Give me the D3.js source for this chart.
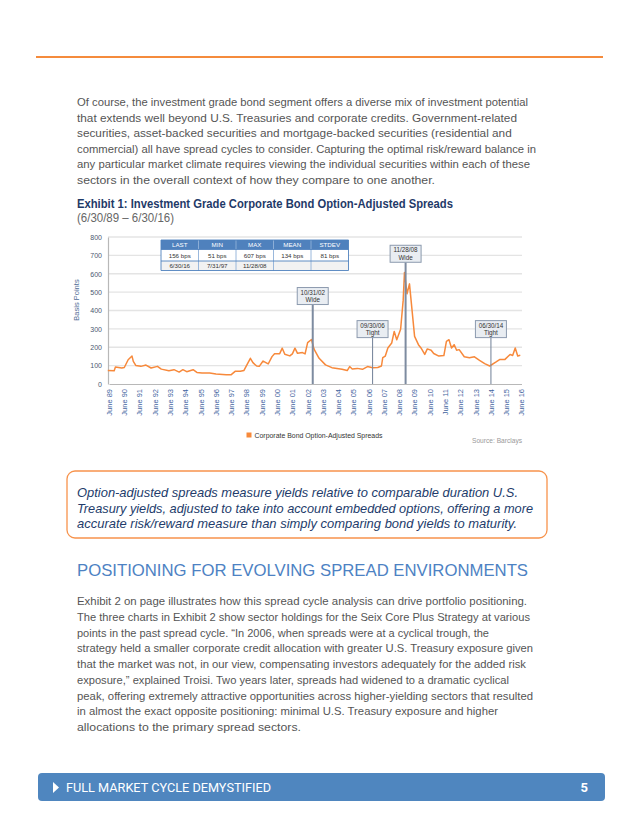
<!DOCTYPE html>
<html><head><meta charset="utf-8">
<script src="https://cdn.jsdelivr.net/npm/d3@7"></script>
<style>body{margin:0;background:#fff}svg{display:block}</style>
</head><body><svg id="c" width="640" height="828"></svg>
<script>
// ---------- DATA ----------
const dates = ["1989-06","1989-11","1989-12","1990-05","1990-07","1990-10","1991-01","1991-02","1991-04","1991-08","1991-12",
"1992-04","1992-09","1992-12","1993-06","1993-10","1994-02","1994-05","1994-08","1995-01","1995-04","1995-08","1996-02","1996-07",
"1997-03","1997-07","1997-10","1998-02","1998-05","1998-08","1998-10","1998-12","1999-03","1999-05","1999-08","1999-12",
"2000-03","2000-05","2000-09","2000-11","2001-01","2001-05","2001-07","2001-09","2001-11","2002-03","2002-05","2002-07","2002-10","2002-12",
"2003-04","2003-09","2004-02","2004-10","2005-02","2005-04","2005-06","2005-10","2006-02","2006-06","2006-10","2007-02","2007-05",
"2007-06","2007-08","2007-10","2008-01","2008-03","2008-05","2008-08","2008-10","2008-11","2009-01","2009-03","2009-05","2009-07","2009-10","2009-12",
"2010-03","2010-05","2010-08","2010-10","2011-02","2011-06","2011-08","2011-10","2011-12","2012-02","2012-04","2012-06","2012-10",
"2013-02","2013-06","2013-10","2014-02","2014-06","2014-11","2015-02","2015-06","2015-10","2015-12","2016-02","2016-04","2016-06"];
const spreads = [74,72,92,87,90,132,152,123,101,96,103,
87,96,81,72,78,65,78,67,78,63,60,60,54,
50,51,69,69,74,114,140,116,98,96,125,109,
149,165,165,195,162,153,164,195,167,171,164,225,242,190,
140,104,89,80,73,95,82,85,80,95,88,90,98,
143,152,196,223,286,241,298,455,607,491,545,402,259,214,196,
161,191,184,166,152,155,232,241,196,214,184,187,148,
143,148,129,111,98,120,134,134,161,155,196,152,156];
const yTicks = [0,100,200,300,400,500,600,700,800];
const xTickLabels = ["June 89","June 90","June 91","June 92","June 93","June 94","June 95","June 96","June 97","June 98","June 99","June 00","June 01","June 02","June 03","June 04","June 05","June 06","June 07","June 08","June 09","June 10","June 11","June 12","June 13","June 14","June 15","June 16"];
const xTickYears = [1989,1990,1991,1992,1993,1994,1995,1996,1997,1998,1999,2000,2001,2002,2003,2004,2005,2006,2007,2008,2009,2010,2011,2012,2013,2014,2015,2016];
const tableHeaders = ["LAST","MIN","MAX","MEAN","STDEV"];
const tableValues = ["156 bps","51 bps","607 bps","134 bps","81 bps"];
const tableDates = ["6/30/16","7/31/97","11/28/08","",""];
const annotDates = ["2002-10-31","2006-09-30","2008-11-28","2014-06-30"];
const annotTop = ["10/31/02","09/30/06","11/28/08","06/30/14"];
const annotBottom = ["Wide","Tight","Wide","Tight"];
const annotLevel = [525,345,755,345];
const seriesName = "Corporate Bond Option-Adjusted Spreads";

const para1 = ["Of course, the investment grade bond segment offers a diverse mix of investment potential",
"that extends well beyond U.S. Treasuries and corporate credits. Government-related",
"securities, asset-backed securities and mortgage-backed securities (residential and",
"commercial) all have spread cycles to consider. Capturing the optimal risk/reward balance in",
"any particular market climate requires viewing the individual securities within each of these",
"sectors in the overall context of how they compare to one another."];
const para1End = [528,518,512,536,530,435];
const callout = ["Option-adjusted spreads measure yields relative to comparable duration U.S.",
"Treasury yields, adjusted to take into account embedded options, offering a more",
"accurate risk/reward measure than simply comparing bond yields to maturity."];
const calloutEnd = [518,533,517];
const para2 = ["Exhibit 2 on page illustrates how this spread cycle analysis can drive portfolio positioning.",
"The three charts in Exhibit 2 show sector holdings for the Seix Core Plus Strategy at various",
"points in the past spread cycle. \u201CIn 2006, when spreads were at a cyclical trough, the",
"strategy held a smaller corporate credit allocation with greater U.S. Treasury exposure given",
"that the market was not, in our view, compensating investors adequately for the added risk",
"exposure,\u201D explained Troisi. Two years later, spreads had widened to a dramatic cyclical",
"peak, offering extremely attractive opportunities across higher-yielding sectors that resulted",
"in almost the exact opposite positioning: minimal U.S. Treasury exposure and higher",
"allocations to the primary spread sectors."];
const para2End = [527,530,489,533,526,509,533,498,301];

// ---------- DRAW ----------
const svg = d3.select("#c");
const F = "'Liberation Sans', Arial, Helvetica, sans-serif";
svg.append("rect").attr("width",640).attr("height",828).attr("fill","#fff");

function fit(t, w){
  const n = t.node().getComputedTextLength();
  if (Math.abs(n - w) > 1) t.attr("textLength", w).attr("lengthAdjust","spacingAndGlyphs");
  return t;
}
function lines(arr, ends, x, y0, dy, size, color, style){
  arr.forEach((s,i)=>{
    const t = svg.append("text").attr("x",x).attr("y",y0+i*dy).attr("font-family",F)
      .attr("font-size",size).attr("fill",color).attr("font-style",style||"normal").text(s);
    fit(t, ends[i]-x);
  });
}

// top orange rule
svg.append("line").attr("x1",36).attr("x2",603).attr("y1",57).attr("y2",57).attr("stroke","#F58B3C").attr("stroke-width",2);

lines(para1, para1End, 77, 106, 15.6, 11.8, "#555");

// Title
fit(svg.append("text").attr("x",77).attr("y",208).attr("font-family",F).attr("font-size",12).attr("font-weight","bold")
  .attr("fill","#1F3A68").text("Exhibit 1: Investment Grade Corporate Bond Option-Adjusted Spreads"), 376);
fit(svg.append("text").attr("x",77).attr("y",221.5).attr("font-family",F).attr("font-size",12)
  .attr("fill","#666").text("(6/30/89 \u2013 6/30/16)"), 97);

// Chart
const parse = d3.timeParse("%Y-%m");
const parseD = d3.timeParse("%Y-%m-%d");
const x = d3.scaleTime().domain([new Date(1989,5,30), new Date(2016,5,30)]).range([109,521.5]);
const y = d3.scaleLinear().domain([0,800]).range([384,237]);
const g = svg.append("g");

g.selectAll(".grid").data(yTicks.filter(d=>d>0)).enter().append("line")
  .attr("x1",108).attr("x2",522).attr("y1",d=>y(d)).attr("y2",d=>y(d))
  .attr("stroke","#E4E4E4").attr("stroke-width",1.3);

const yAxis = g.append("g").attr("transform","translate(108,0)")
  .call(d3.axisLeft(y).tickValues(yTicks).tickSize(0).tickPadding(6));
yAxis.select(".domain").attr("stroke","#B8B8B8").attr("stroke-width",1.2);
yAxis.selectAll("text").attr("font-family",F).attr("font-size",7).attr("fill","#4A5A70");

const xAxis = g.append("g").attr("transform","translate(0,384)")
  .call(d3.axisBottom(x).tickValues(xTickYears.map(yr=>new Date(yr,5,30))).tickSize(0)
    .tickFormat((d,i)=>xTickLabels[i]));
xAxis.select(".domain").attr("stroke","#B8B8B8").attr("stroke-width",1.2);
xAxis.selectAll("text").attr("font-family",F).attr("font-size",7.5).attr("fill","#3F64A0")
  .attr("transform","rotate(-90)").attr("text-anchor","end").attr("x",-5).attr("y",0).attr("dy","0.32em");

g.append("text").attr("transform","translate(79,300) rotate(-90)").attr("text-anchor","middle")
  .attr("font-family",F).attr("font-size",7.5).attr("fill","#4F6C95").text("Basis Points");

// series
const pts = dates.map((d,i)=>({d:parse(d), v:spreads[i]}));
g.append("path").datum(pts).attr("fill","none").attr("stroke","#F7893B").attr("stroke-width",1.5)
  .attr("stroke-linejoin","round")
  .attr("d", d3.line().x(p=>x(p.d)).y(p=>y(p.v)));

// annotations
annotDates.forEach((ds,i)=>{
  const cx = x(parseD(ds));
  const top = y(annotLevel[i]);
  const wide = annotBottom[i]==="Wide";
  g.append("line").attr("x1",cx).attr("x2",cx).attr("y1",top+17).attr("y2",384)
    .attr("stroke","#7D8BA0").attr("stroke-width", wide?2:1.1);
  g.append("rect").attr("x",cx-15.5).attr("y",top).attr("width",31).attr("height",17)
    .attr("fill","#E9EDF2").attr("stroke","#8C9AAE").attr("stroke-width",1);
  g.append("text").attr("x",cx).attr("y",top+7).attr("text-anchor","middle").attr("font-family",F)
    .attr("font-size",6.3).attr("fill","#333").text(annotTop[i]);
  g.append("text").attr("x",cx).attr("y",top+14.5).attr("text-anchor","middle").attr("font-family",F)
    .attr("font-size",6.3).attr("fill","#333").text(annotBottom[i]);
});

// table
const tx0 = 161, cw = 37.5, rows=[240,249.5,261,270.5];
tableHeaders.forEach((h,i)=>{
  const cx = tx0 + i*cw;
  g.append("rect").attr("x",cx).attr("y",rows[0]).attr("width",cw).attr("height",rows[1]-rows[0]).attr("fill","#4F81BD");
  g.append("rect").attr("x",cx).attr("y",rows[1]).attr("width",cw).attr("height",rows[2]-rows[1]).attr("fill","#FFFFFF");
  g.append("rect").attr("x",cx).attr("y",rows[2]).attr("width",cw).attr("height",rows[3]-rows[2]).attr("fill","#F2F2F2");
  g.append("text").attr("x",cx+cw/2).attr("y",rows[0]+7).attr("text-anchor","middle").attr("font-family",F)
    .attr("font-size",6.2).attr("fill","#fff").text(h);
  g.append("text").attr("x",cx+cw/2).attr("y",rows[1]+8).attr("text-anchor","middle").attr("font-family",F)
    .attr("font-size",6.2).attr("fill","#333").text(tableValues[i]);
  g.append("text").attr("x",cx+cw/2).attr("y",rows[2]+7).attr("text-anchor","middle").attr("font-family",F)
    .attr("font-size",6.2).attr("fill","#333").text(tableDates[i]);
});
for (let i=0;i<=tableHeaders.length;i++){
  g.append("line").attr("x1",tx0+i*cw).attr("x2",tx0+i*cw).attr("y1",rows[0]).attr("y2",rows[3])
    .attr("stroke", i===0||i===tableHeaders.length?"#4F81BD":"#8FB0D8").attr("stroke-width",0.9);
}
rows.forEach((ry,j)=>{
  g.append("line").attr("x1",tx0).attr("x2",tx0+tableHeaders.length*cw).attr("y1",ry).attr("y2",ry)
    .attr("stroke","#4F81BD").attr("stroke-width",0.9);
});

// legend
g.append("rect").attr("x",246.5).attr("y",432.5).attr("width",5).attr("height",5).attr("fill","#F7893B");
fit(g.append("text").attr("x",254.5).attr("y",438).attr("font-family",F).attr("font-size",7.3).attr("fill","#333").text(seriesName),128);
fit(g.append("text").attr("x",472).attr("y",443).attr("font-family",F).attr("font-size",7.3).attr("fill","#999").text("Source: Barclays"),50);

// callout box
svg.append("rect").attr("x",67).attr("y",471).attr("width",480).attr("height",67).attr("rx",8)
  .attr("fill","#fff").attr("stroke","#F7934C").attr("stroke-width",1.3);
lines(callout, calloutEnd, 77, 497, 15.6, 13, "#233C6B", "italic");

// heading
fit(svg.append("text").attr("x",77).attr("y",576).attr("font-family",F).attr("font-size",17)
  .attr("fill","#4D82C3").text("POSITIONING FOR EVOLVING SPREAD ENVIRONMENTS"), 451);

lines(para2, para2End, 77, 605, 15.75, 11.8, "#555");

// footer
svg.append("rect").attr("x",38).attr("y",773).attr("width",567).attr("height",28).attr("rx",4).attr("fill","#4F86BF");
svg.append("path").attr("d","M53,782 L59,787.5 L53,793 Z").attr("fill","#fff");
fit(svg.append("text").attr("x",66).attr("y",792).attr("font-family","Roboto, sans-serif").attr("font-size",13)
  .attr("fill","#fff").text("FULL MARKET CYCLE DEMYSTIFIED"), 205);
svg.append("text").attr("x",588).attr("y",792).attr("text-anchor","end").attr("font-family","Roboto, sans-serif").attr("font-size",13)
  .attr("font-weight","bold").attr("fill","#fff").text("5");
</script></body></html>
